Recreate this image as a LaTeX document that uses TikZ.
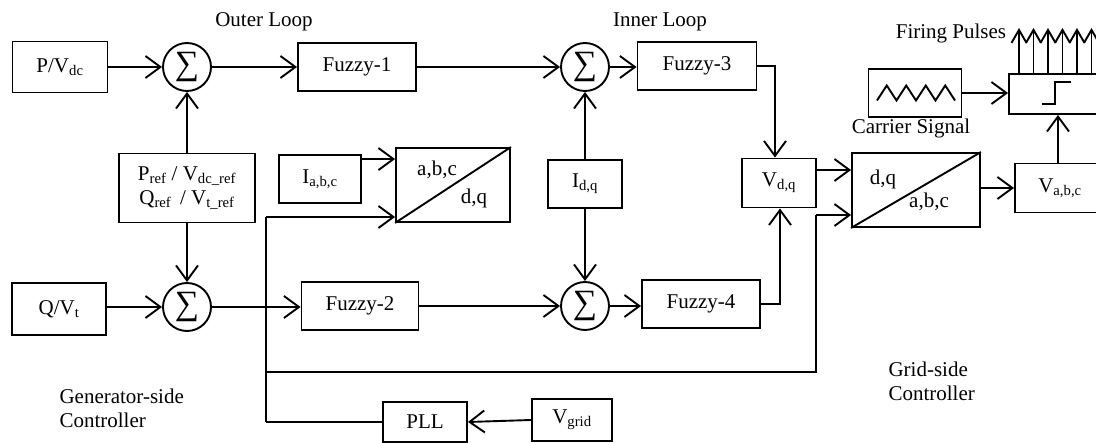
\documentclass[tikz,border=0pt]{standalone}
\usepackage{fontspec}
\setmainfont{Liberation Serif}
\usetikzlibrary{arrows.meta}
\begin{document}
\begin{tikzpicture}[x=1pt,y=-1pt,
  every node/.style={font=\fontsize{21}{24}\selectfont},
  box/.style={draw, line width=1.9pt, inner sep=0pt},
  sumnode/.style={draw, circle, line width=1.9pt, minimum size=48pt, inner sep=0pt, font=\fontsize{34}{34}\selectfont},
  conn/.style={line width=1.9pt},
  arr/.style={conn, -{Straight Barb[length=15pt,width=22pt]}},
  pulse/.style={conn, -{Straight Barb[length=13pt,width=15pt]}},
  lbl/.style={inner sep=0pt},
]
\useasboundingbox (0,0) rectangle (1096,443);

% ---- generator side ----
\node[box, minimum width=95pt, minimum height=51pt] (pv) at (60,67) {P/V\textsubscript{dc}};
\node[sumnode] (s1) at (187,67) {∑};
\node[box, minimum width=136pt, minimum height=69pt, align=center] (pref) at (187,188)
  {P\textsubscript{ref} / V\textsubscript{dc\_ref}\\Q\textsubscript{ref}\, / V\textsubscript{t\_ref}};
\node[sumnode] (s2) at (187,307) {∑};
\node[box, minimum width=94pt, minimum height=52pt] (qv) at (59,309) {Q/V\textsubscript{t}};
\node[box, minimum width=118pt, minimum height=48pt] (f1) at (357,67) {Fuzzy-1};
\node[box, minimum width=117pt, minimum height=48pt] (f2) at (360,306) {Fuzzy-2};
\node[box, minimum width=82pt, minimum height=48pt] (ia) at (320,179) {I\textsubscript{a,b,c}};
\node[box, minimum width=114pt, minimum height=74pt] (t1) at (453,185) {};
\draw[conn] (t1.south west) -- (t1.north east);
\node[lbl] (t1a) at (437,170) {a,b,c};
\node[lbl] (t1b) at (474,198) {d,q};

% ---- inner loop ----
\node[sumnode] (s3) at (585,67) {∑};
\node[box, minimum width=74pt, minimum height=48pt] (idq) at (585,184) {I\textsubscript{d,q}};
\node[sumnode] (s4) at (585,306) {∑};
\node[box, minimum width=119pt, minimum height=48pt] (f3) at (697,66) {Fuzzy-3};
\node[box, minimum width=118pt, minimum height=48pt] (f4) at (701,304) {Fuzzy-4};
\node[box, minimum width=74pt, minimum height=49pt] (vdq) at (779,183) {V\textsubscript{d,q}};
\node[box, minimum width=128pt, minimum height=74pt] (t2) at (916,190) {};
\draw[conn] (t2.south west) -- (t2.north east);
\node[lbl] (t2a) at (883,179) {d,q};
\node[lbl] (t2b) at (929,202) {a,b,c};
\node[box, minimum width=90pt, minimum height=49pt] (vabc) at (1060,188) {V\textsubscript{a,b,c}};
\node[box, minimum width=96pt, minimum height=40pt] (comp) at (1057,94) {};
\draw[conn] ([shift={(-15,10)}]comp.center) -- ++(13,0) -- ++(0,-22) -- ++(16,0);
\node[box, minimum width=93pt, minimum height=48pt] (car) at (915,93) {};
\draw[conn] ([shift={(-38,7.5)}]car.center)
  -- ++(9.75,-15) -- ++(9.75,15) -- ++(9.75,-15) -- ++(9.75,15)
  -- ++(9.75,-15) -- ++(9.75,15) -- ++(9.75,-15) -- ++(9.75,15);
\node[box, minimum width=84pt, minimum height=40pt] (pll) at (425,422) {PLL};
\node[box, minimum width=80pt, minimum height=42pt] (vg) at (572,420) {V\textsubscript{grid}};

% ---- labels ----
\node (outer) at (264,22) {Outer Loop};
\node (inner) at (660,22) {Inner Loop};
\node (fire) at (951,33) {Firing Pulses};
\node (carl) at (911,128) {Carrier Signal};
\node[anchor=west, align=left] (gen) at (56,408) {Generator-side\\Controller};
\node[anchor=west, align=left] (grid) at (885,381) {Grid-side\\Controller};

% ---- coordinates ----
\coordinate (jA) at (266,217);
\coordinate (jB) at (266,372);
\coordinate (jC) at (266,422);
\coordinate (kA) at (816,372);
\coordinate (kB) at (816,215);

% ---- connectors ----
\draw[arr] (pv.east) -- (s1.west);
\draw[arr] (pref.north) -- (s1.south);
\draw[arr] (pref.south) -- (s2.north);
\draw[arr] (qv.east |- s2) -- (s2.west);
\draw[arr] (s1.east) -- (f1.west);
\draw[arr] (s2.east) -- (s2.east -| f2.west);
\draw[arr] (f1.east) -- (s3.west);
\draw[arr] (f2.east) -- (f2.east -| s4.west);
\draw[arr] (idq.north) -- (s3.south);
\draw[arr] (idq.south) -- (s4.north);
\draw[arr] (s3.east) -- (s3.east -| f3.west);
\draw[arr] (s4.east) -- (s4.east -| f4.west);
\draw[arr] (f3.east) -| ([xshift=-4pt]vdq.north);
\draw[arr] (f4.east) -| ([xshift=1pt]vdq.south);
\draw[arr] ([yshift=-5pt]ia.north east) -- ([yshift=-5pt]ia.north east -| t1.west);
\draw[conn] (jA) -- (jC);
\draw[arr] (jA) -- (jA -| t1.west);
\draw[conn] (jB) -- (kA) -- (kB);
\draw[arr] (kB) -- (kB -| t2.west);
\draw[conn] (pll.west) -- (jC);
\draw[arr] (vg.west) -- (pll.east);
\draw[arr] ([yshift=13pt]vdq.east) -- ([yshift=13pt]vdq.east -| t2.west);
\draw[arr] (t2.east |- vabc) -- (vabc.west);
\draw[arr] ([xshift=-2pt]vabc.north) -- ([xshift=-2pt]vabc.north |- comp.south);
\draw[arr] (car.east) -- (car.east -| comp.west);
\foreach \px [count=\i] in {1019,1033.5,1048,1062.5,1077,1091.5} {
  \coordinate (p\i) at (\px,28);
  \draw[pulse] (comp.north -| p\i) -- (p\i);
}
\end{tikzpicture}
\end{document}
